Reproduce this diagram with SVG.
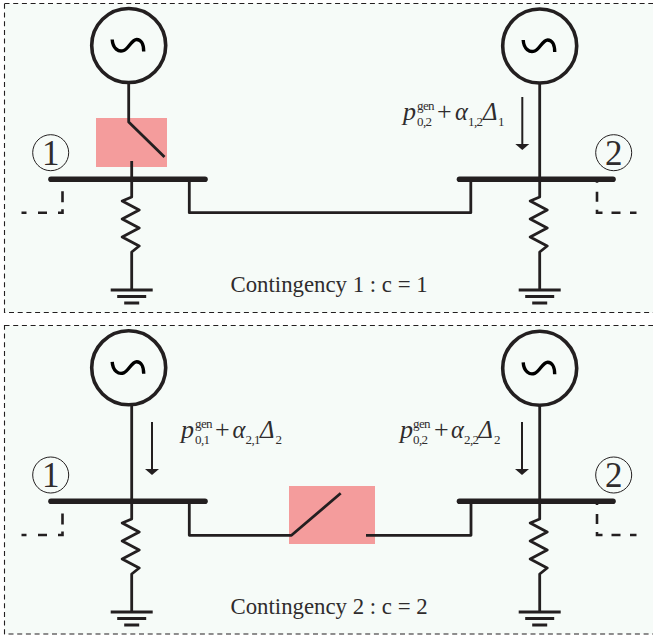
<svg xmlns="http://www.w3.org/2000/svg" width="653" height="637" viewBox="0 0 653 637">
<style>
.w{fill:none;stroke:#231f20;stroke-width:2.8;stroke-linejoin:round}
.bus{fill:none;stroke:#231f20;stroke-width:5.6;stroke-linecap:round}
.dash{fill:none;stroke:#231f20;stroke-width:2.6}
.frame{fill:#f6fbf8;stroke:#231f20;stroke-width:1.1;stroke-dasharray:5 3.7}
.t{font-family:"Liberation Serif",serif;fill:#2f2c2d}
.i{font-style:italic}
.m{font-size:26px}
.a{font-size:24.500px}
.s{font-size:13px;letter-spacing:-.6px}
.c{font-size:22.800px}
.d{font-size:35px;text-anchor:middle}
.pink{fill:#f49c9c}
.num{fill:none;stroke:#231f20;stroke-width:1}
</style>
<defs>
<g id="gen"><circle r="37" fill="none" stroke="#231f20" stroke-width="3.600"/><path d="M-16.500 -6C-16 3 -10 7 -5 5C0 3 3 -6 8 -6C12 -6 15 -2 15 6" fill="none" stroke="#000" stroke-width="3.400"/></g>
<g id="load"><path class="w" d="M0 0V18L-9.500 22 7.500 31-9.500 40 7.500 49-9.500 58 7.500 67 0 73V111"/><path class="w" d="M-21 111H21M-14.500 117.500H14.500M-7.500 124H7.500"/></g>
<path id="arrow" d="M0 0V48" stroke="#231f20" stroke-width="2" fill="none"/>
<path id="head" d="M-7 0H7L0 6Z" fill="#231f20"/>
<path id="dash-l" class="dash" d="M21.500 0H26.500M38 0H47M58 0H62.500V-3.500M62.500 -10.500V-21.500M62.500 -32V-33.500"/>
<path id="dash-r" class="dash" d="M636.500 0H630M620.500 0H611.500M602.500 0H597V-3M597 -11V-21M597 -30V-33"/>
</defs>
<rect class="frame" x="4.500" y="3.500" width="655" height="309"/>
<rect class="frame" x="4.500" y="325.500" width="655" height="308.500"/>
<g id="contingency-1">
<rect id="fault-1" class="pink" x="96" y="118" width="71" height="49"/>
<g id="bus-1a"><path class="bus" d="M51 179.300H205"/><circle class="num" cx="50.700" cy="152.700" r="18"/><text class="t d" x="50.700" y="164.500">1</text></g>
<g id="bus-2a"><path class="bus" d="M459.500 179.300H613"/><circle class="num" cx="613.700" cy="152.700" r="18"/><text class="t d" x="613.700" y="164.500">2</text></g>
<use id="gen-1a" href="#gen" x="128.700" y="45.500"/>
<use id="gen-2a" href="#gen" x="539.700" y="46"/>
<use id="load-1a" href="#load" x="131.700" y="179"/>
<use id="load-2a" href="#load" x="539.700" y="179"/>
<g id="connectors-a">
<path class="w" d="M128.700 84V122L164.500 157M131.700 161V179M539.700 84V179M189.300 179V212.700H470.800V179"/>
<use href="#dash-l" y="212.700"/>
<use href="#dash-r" y="212.700"/>
<use href="#arrow" x="522.300" y="97"/><use href="#head" x="522.300" y="144"/>
</g>
<g class="t">
<text class="i m" x="403" y="120">p</text>
<text class="s" x="417" y="110">gen</text>
<text class="s" x="417" y="126">0,2</text>
<text class="m" x="437" y="120">+</text>
<text class="i a" x="455" y="120">α</text>
<text class="s" x="468" y="126">1,2</text>
<text class="i a" x="483" y="120">Δ</text>
<text class="s" x="498" y="126">1</text>
<text class="c" x="230.500" y="291.500">Contingency 1 : c = 1</text>
</g>
</g>
<g id="contingency-2">
<rect id="fault-2" class="pink" x="289" y="486" width="86" height="58"/>
<g id="bus-1b"><path class="bus" d="M51 501.300H205"/><circle class="num" cx="50.700" cy="475" r="18"/><text class="t d" x="50.700" y="487">1</text></g>
<g id="bus-2b"><path class="bus" d="M459.500 501.300H613"/><circle class="num" cx="613.700" cy="475" r="18"/><text class="t d" x="613.700" y="487">2</text></g>
<use id="gen-1b" href="#gen" x="128.700" y="367.800"/>
<use id="gen-2b" href="#gen" x="539.700" y="368.300"/>
<use id="load-1b" href="#load" x="131.700" y="501"/>
<use id="load-2b" href="#load" x="539.700" y="501"/>
<g id="connectors-b">
<path class="w" d="M131.700 406V501M539.700 406V501M189.300 501V535.300H291.500L340.700 493.300M366 535.300H471V501"/>
<use href="#dash-l" y="535"/>
<use href="#dash-r" y="535"/>
<use href="#arrow" x="152" y="422"/><use href="#head" x="152" y="469"/>
<use href="#arrow" x="522" y="422"/><use href="#head" x="522" y="469"/>
</g>
<g class="t">
<text class="i m" x="181" y="438">p</text>
<text class="s" x="195" y="428">gen</text>
<text class="s" x="195" y="444">0,1</text>
<text class="m" x="215" y="438">+</text>
<text class="i a" x="232.500" y="438">α</text>
<text class="s" x="245.500" y="444">2,1</text>
<text class="i a" x="260" y="438">Δ</text>
<text class="s" x="275.500" y="444">2</text>
<text class="i m" x="400" y="438">p</text>
<text class="s" x="413" y="428">gen</text>
<text class="s" x="413" y="444">0,2</text>
<text class="m" x="434" y="438">+</text>
<text class="i a" x="451" y="438">α</text>
<text class="s" x="464" y="444">2,2</text>
<text class="i a" x="478.500" y="438">Δ</text>
<text class="s" x="494" y="444">2</text>
<text class="c" x="230.500" y="614">Contingency 2 : c = 2</text>
</g>
</g>
</svg>
